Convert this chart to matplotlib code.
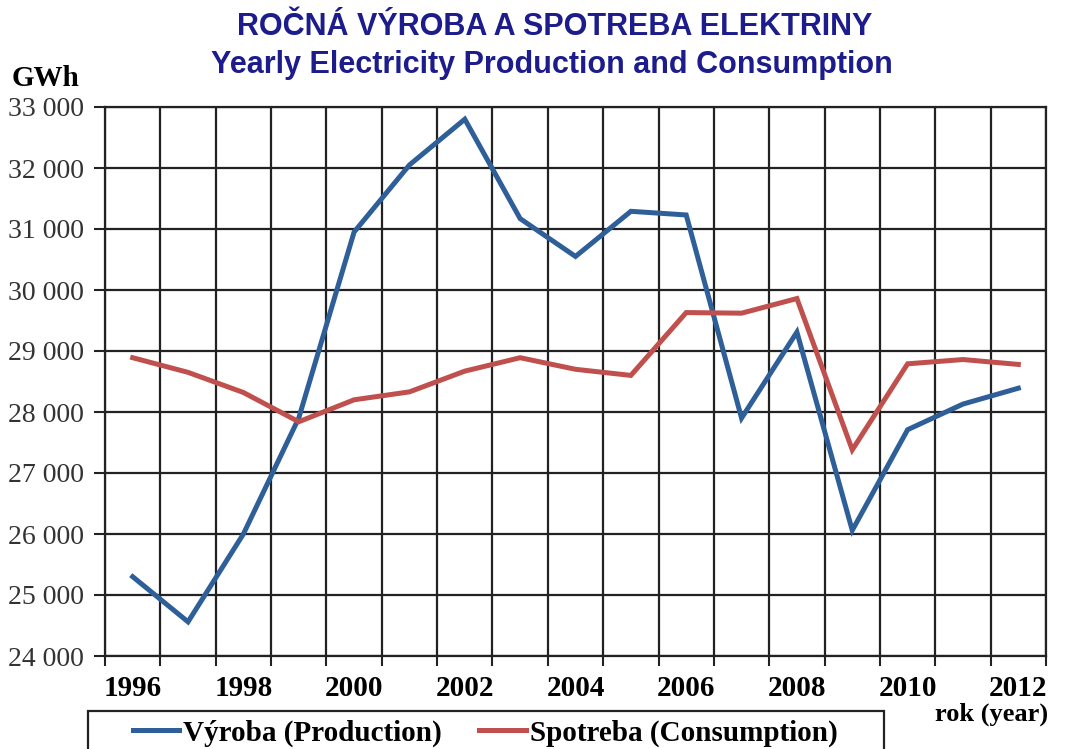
import numpy as np
import matplotlib.pyplot as plt
from matplotlib.patches import Rectangle
from matplotlib.ticker import FixedLocator, FuncFormatter

years = list(range(1996, 2013))
production = [25300, 24560, 26000, 27900, 30950, 32050, 32800, 31170, 30550,
              31290, 31230, 27900, 29310, 26060, 27710, 28130, 28390]
consumption = [28890, 28650, 28320, 27840, 28200, 28330, 28670, 28890, 28700,
               28600, 29630, 29620, 29860, 27380, 28790, 28860, 28780]
y_ticks = list(range(24000, 34000, 1000))

blue = "#2f5f98"
red = "#c0504d"
navy = "#1c1c8c"

plt.rcParams['font.family'] = ['Liberation Serif', 'DejaVu Serif']

fig = plt.figure(figsize=(10.74, 7.49), dpi=100)
ax = fig.add_axes([105 / 1074, 1 - 656 / 749, (1046 - 105) / 1074, (656 - 107) / 749])

x = np.arange(len(years))
ax.plot(x, production, color=blue, lw=3.6, label="Výroba (Production)", solid_joinstyle='miter')
ax.plot(x, consumption, color=red, lw=3.6, label="Spotreba (Consumption)", solid_joinstyle='miter')

ax.set_xlim(-0.5, len(years) - 0.5)
ax.set_ylim(24000, 33000)

# category axis: gridlines at boundaries, labels every second year
ax.xaxis.set_minor_locator(FixedLocator(np.arange(-0.5, len(years), 1.0)))
ax.set_xticks(x[::2])
ax.set_xticklabels([str(y) for y in years[::2]], fontsize=21, fontweight='bold')
ax.tick_params(axis='x', which='major', length=0, pad=14)
ax.tick_params(axis='x', which='minor', length=7, width=1.5, color='#222222')
ax.grid(True, axis='x', which='minor', color='#222222', lw=1.6)

ax.set_yticks(y_ticks)
ax.yaxis.set_major_formatter(FuncFormatter(lambda v, p: f"{int(v):,}".replace(",", " ")))
ax.tick_params(axis='y', length=8, width=1.5, color='#222222', labelsize=20,
               labelcolor='#333333', pad=7)
ax.grid(True, axis='y', which='major', color='#222222', lw=1.6)
ax.set_axisbelow(True)

for s in ax.spines.values():
    s.set_color('#222222')
    s.set_linewidth(1.6)

fig.text(12 / 1074, 1 - 78 / 749, "GWh", fontsize=21, fontweight='bold', va='center', ha='left')
fig.text(1048 / 1074, 1 - 714 / 749, "rok (year)", fontsize=19, fontweight='bold', va='center', ha='right')

fig.text(555 / 1074, 1 - 27 / 749, "ROČNÁ VÝROBA A SPOTREBA ELEKTRINY", fontsize=22,
         fontweight='bold', color=navy, ha='center', va='center', family='Liberation Sans')
fig.text(552 / 1074, 1 - 65 / 749, "Yearly Electricity Production and Consumption", fontsize=22,
         fontweight='bold', color=navy, ha='center', va='center', family='Liberation Sans')

# legend box (runs off the bottom edge, as in the original)
fig.patches.append(Rectangle((88 / 1074, -0.05), (884 - 88) / 1074, 1 - 711 / 749 + 0.05,
                             transform=fig.transFigure, fill=False, edgecolor='#222222', lw=1.6))
fig.legend(loc='center left', bbox_to_anchor=(118 / 1074, 1 - 733 / 749), ncol=2,
           frameon=False, handlelength=1.6, handletextpad=0.12, columnspacing=1.3,
           borderpad=0, prop={'size': 21, 'weight': 'bold'})

fig.savefig("out.png", dpi=100)
